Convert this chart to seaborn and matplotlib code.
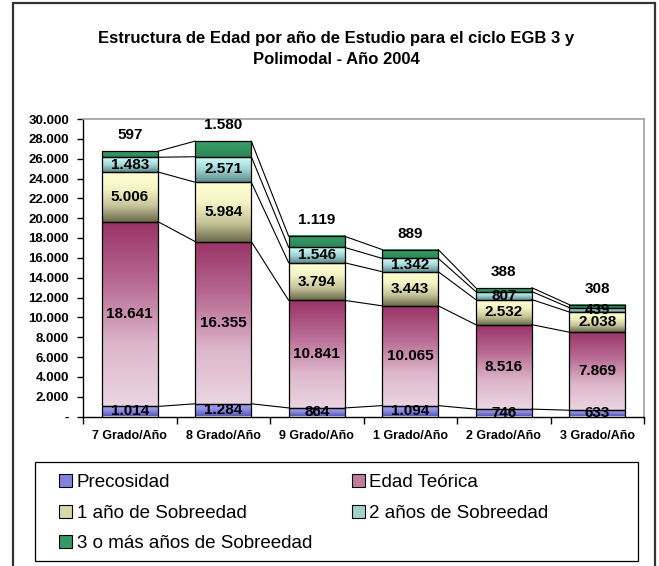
import numpy as np
import pandas as pd
import seaborn as sns
import matplotlib
matplotlib.use("Agg")
import matplotlib.pyplot as plt
from matplotlib.colors import LinearSegmentedColormap
from matplotlib.patches import Patch, Rectangle
from matplotlib.ticker import FuncFormatter, FixedLocator

# data
grados = ["7 Grado/Año", "8 Grado/Año", "9 Grado/Año", "1 Grado/Año", "2 Grado/Año", "3 Grado/Año"]
series = ["Precosidad", "Edad Teórica", "1 año de Sobreedad", "2 años de Sobreedad",
          "3 o más años de Sobreedad"]
precosidad = [1014, 1284, 864, 1094, 746, 633]
edad_teorica = [18641, 16355, 10841, 10065, 8516, 7869]
sobre_1 = [5006, 5984, 3794, 3443, 2532, 2038]
sobre_2 = [1483, 2571, 1546, 1342, 807, 439]
sobre_3 = [597, 1580, 1119, 889, 388, 308]
y_ticks = list(range(0, 30001, 2000))

title = "Estructura de Edad por año de Estudio para el ciclo EGB 3 y\nPolimodal - Año 2004"

# gradient fills (bottom -> top), and flat colours for the legend
gradients = [
    ["#5858b2", "#8c8ce0", "#aaaaf4"],
    ["#ebd5e2", "#ddb6cb", "#b86b93", "#993366"],
    ["#6a694b", "#c8c79c", "#f4f4c6", "#ffffd2"],
    ["#5c8a8a", "#a4d6d6", "#d2ffff"],
    ["#2d8656", "#36a06b"],
]
legend_colors = ["#8282dc", "#c27a9f", "#d9d8a8", "#9fd0d0", "#339966"]


def fmt(v):
    return "{:,.0f}".format(v).replace(",", ".")


df = pd.DataFrame({"grado": grados})
values = [precosidad, edad_teorica, sobre_1, sobre_2, sobre_3]

sns.set_theme(style="white")
plt.rcParams["font.family"] = ["Liberation Sans", "DejaVu Sans"]
plt.rcParams["text.color"] = "black"
plt.rcParams["xtick.color"] = "black"
plt.rcParams["ytick.color"] = "black"

fig = plt.figure(figsize=(6.59, 5.66), dpi=100)
ax = fig.add_axes([83 / 659, 1 - 416.5 / 566, 561 / 659, 297.5 / 566])

bottom = np.zeros(len(grados))
seg_patches = []
for name, vals in zip(series, values):
    df[name] = vals
    n0 = len(ax.patches)
    sns.barplot(data=df, x="grado", y=name, bottom=bottom, width=0.6,
                color="white", errorbar=None, ax=ax)
    seg_patches.append(ax.patches[n0:])
    bottom = bottom + np.array(vals)

# gradient fill for every segment, edges on top
grad = np.linspace(0, 1, 256).reshape(-1, 1)
for k, patches in enumerate(seg_patches):
    cmap = LinearSegmentedColormap.from_list("g%d" % k, gradients[k])
    for p in patches:
        x0, y0, w, h = p.get_x(), p.get_y(), p.get_width(), p.get_height()
        ax.imshow(grad, cmap=cmap, origin="lower", aspect="auto",
                  extent=(x0, x0 + w, y0, y0 + h), interpolation="bilinear", zorder=2)
        p.set_facecolor("none")
        p.set_edgecolor("black")
        p.set_linewidth(0.9)
        p.set_zorder(3)

# series lines between bars
tops = np.cumsum(np.array(values), axis=0)
half = 0.3
for k in range(len(series)):
    for i in range(len(grados) - 1):
        ax.plot([i + half, i + 1 - half], [tops[k][i], tops[k][i + 1]],
                color="black", lw=0.8, zorder=2.5)

# value labels
starts = tops - np.array(values)
for k in range(len(series) - 1):
    for i in range(len(grados)):
        ax.text(i, starts[k][i] + values[k][i] / 2, fmt(values[k][i]),
                ha="center", va="center", fontsize=11, fontweight="bold", zorder=4)
for i in range(len(grados)):
    ax.annotate(fmt(sobre_3[i]), (i, tops[-1][i]), xytext=(0, 11.5),
                textcoords="offset points", ha="center", va="center",
                fontsize=11, fontweight="bold", zorder=4)

ax.set_xlim(-0.5, len(grados) - 0.5)
ax.set_ylim(0, 30000)
ax.set_xlabel("")
ax.set_ylabel("")
ax.yaxis.set_major_locator(FixedLocator(y_ticks))
ax.yaxis.set_major_formatter(FuncFormatter(lambda v, p: "-" if v == 0 else fmt(v)))
ax.xaxis.set_minor_locator(FixedLocator(np.arange(-0.5, len(grados), 1.0)))
ax.tick_params(axis="y", which="major", left=True, length=4, width=1, color="black",
               labelcolor="black", pad=6, labelsize=9.5)
ax.tick_params(axis="x", which="major", bottom=True, length=0, pad=10, labelsize=9,
               labelcolor="black")
ax.tick_params(axis="x", which="minor", bottom=True, length=5, width=1, color="black")
plt.setp(ax.get_yticklabels(), fontweight="bold")
plt.setp(ax.get_xticklabels(), fontweight="bold")
ax.grid(False)

for s in ["top", "right"]:
    ax.spines[s].set_color("#a0a0a0")
    ax.spines[s].set_linewidth(1.2)
for s in ["left", "bottom"]:
    ax.spines[s].set_color("black")
    ax.spines[s].set_linewidth(1)

fig.text(336 / 659, 1 - 49 / 566, title, ha="center", va="center",
         fontsize=12, fontweight="bold", linespacing=1.45, color="black")

# outer border and legend box
fig.patches.append(Rectangle((13 / 659, -0.02), 642 / 659, 1.02 - 3 / 566, fill=False,
                             edgecolor="#333333", lw=1.6, transform=fig.transFigure))
fig.patches.append(Rectangle((35 / 659, 1 - 561 / 566), 603 / 659, 99 / 566, fill=False,
                             edgecolor="black", lw=0.9, transform=fig.transFigure))

handles = [Patch(facecolor=c, edgecolor="black", lw=0.8) for c in legend_colors]
order = [0, 2, 4, 1, 3]
leg = fig.legend([handles[j] for j in order], [series[j] for j in order],
                 loc="upper left", bbox_to_anchor=(59 / 659, 1 - 474 / 566), ncol=2,
                 frameon=False, fontsize=13.5, handlelength=0.7, handleheight=0.7,
                 handletextpad=0.25, columnspacing=2.1, labelspacing=0.72,
                 borderpad=0, borderaxespad=0)
for t in leg.get_texts():
    t.set_color("black")

fig.savefig("out.png", dpi=100)
